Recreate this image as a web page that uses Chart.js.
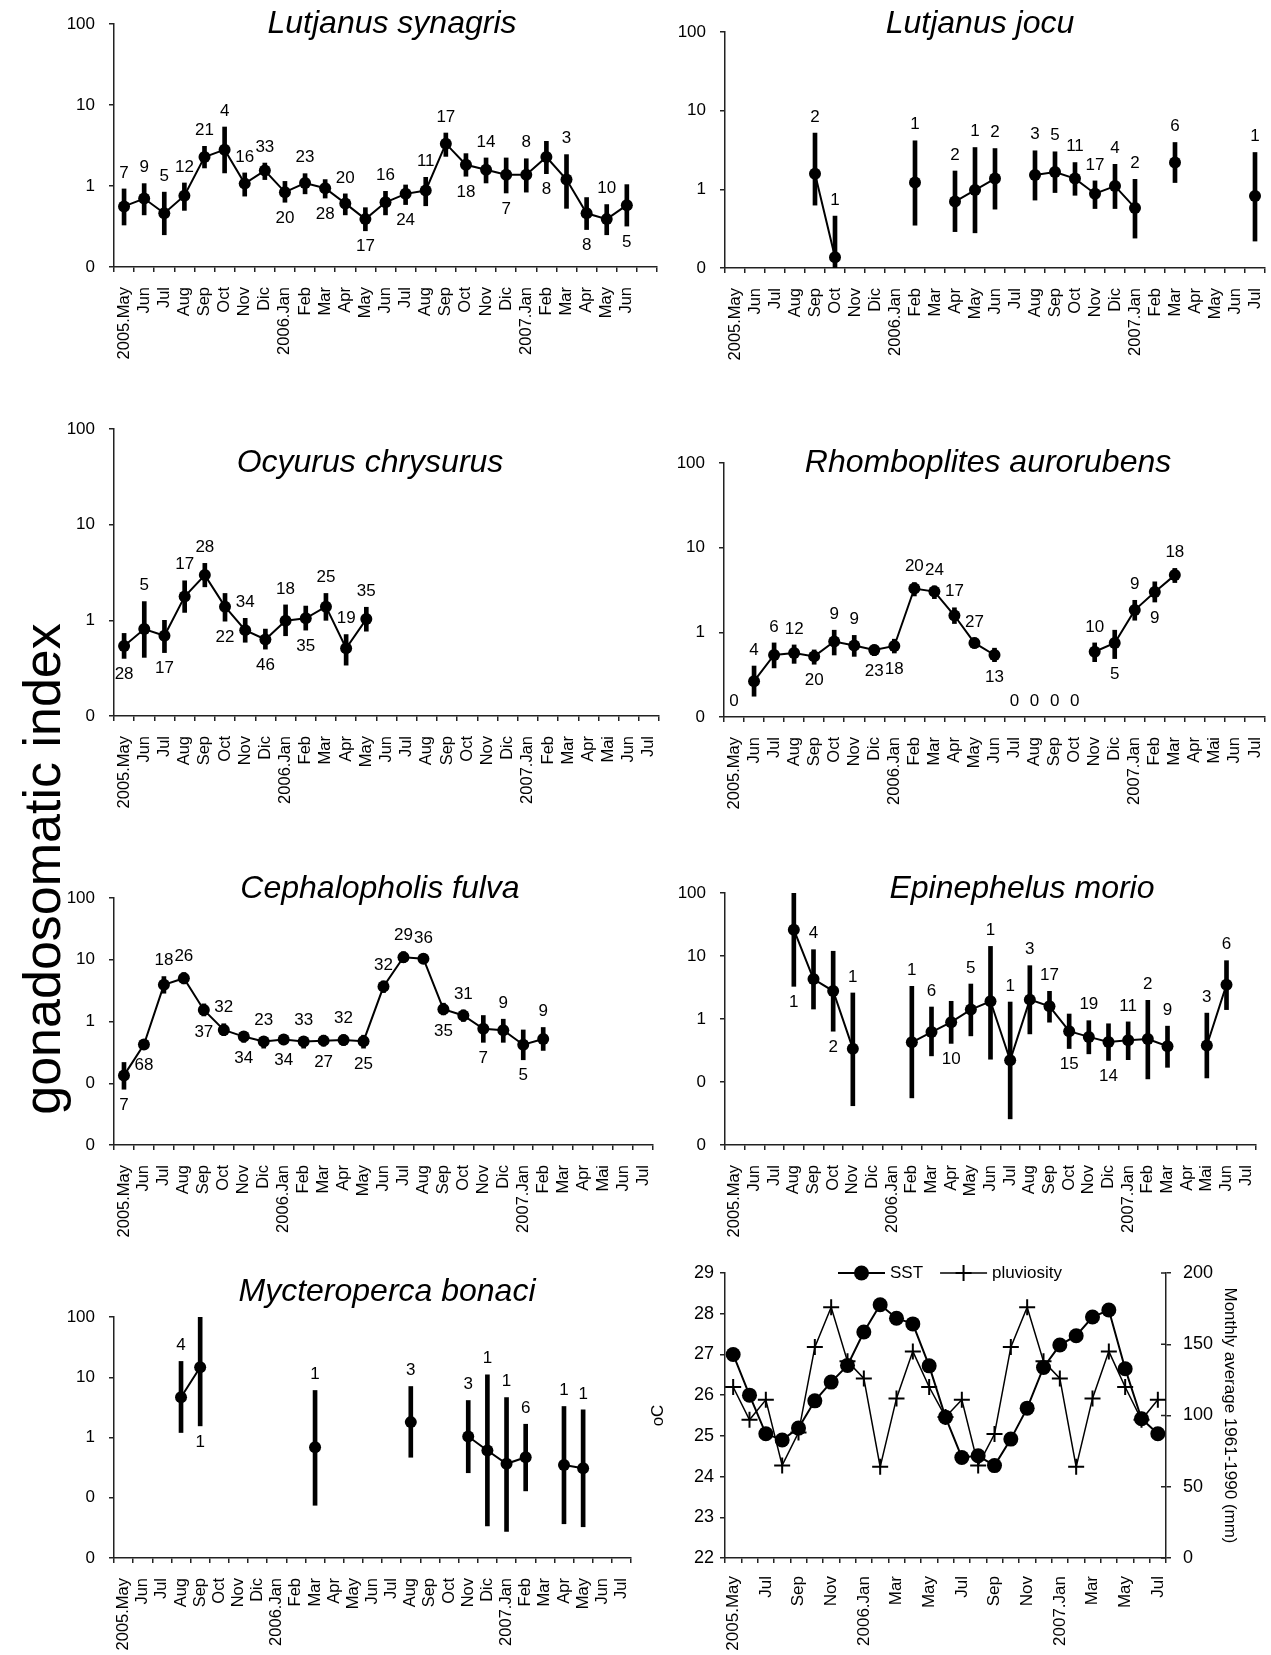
<!DOCTYPE html>
<html>
<head>
<meta charset="utf-8">
<title>Gonadosomatic index</title>
<script src="https://cdn.jsdelivr.net/npm/chart.js@4.4.1/dist/chart.umd.min.js"></script>
<style>
  html, body { margin:0; padding:0; background:#fff; }
  body { width:1271px; height:1655px; position:relative; overflow:hidden; }
  canvas { position:absolute; }
  #ytitle { position:absolute; left:42px; top:869px; transform:translate(-50%,-50%) rotate(-90deg);
            font-family:"Liberation Sans", Arial, sans-serif; font-size:52px; line-height:1; white-space:nowrap; color:#000; }
</style>
</head>
<body>
<div id="ytitle">gonadosomatic index</div>
<canvas id="c1"></canvas>
<canvas id="c2"></canvas>
<canvas id="c3"></canvas>
<canvas id="c4"></canvas>
<canvas id="c5"></canvas>
<canvas id="c6"></canvas>
<canvas id="c7"></canvas>
<canvas id="c8"></canvas>
<script>
// ================= DATA =================
const monthsSynagris = ['2005.May','Jun','Jul','Aug','Sep','Oct','Nov','Dic','2006.Jan','Feb','Mar','Apr','May','Jun','Jul','Aug','Sep','Oct','Nov','Dic','2007.Jan','Feb','Mar','Apr','May','Jun',''];
const monthsMay = ['2005.May','Jun','Jul','Aug','Sep','Oct','Nov','Dic','2006.Jan','Feb','Mar','Apr','May','Jun','Jul','Aug','Sep','Oct','Nov','Dic','2007.Jan','Feb','Mar','Apr','May','Jun','Jul'];
const monthsMai = ['2005.May','Jun','Jul','Aug','Sep','Oct','Nov','Dic','2006.Jan','Feb','Mar','Apr','May','Jun','Jul','Aug','Sep','Oct','Nov','Dic','2007.Jan','Feb','Mar','Apr','Mai','Jun','Jul'];
const monthsEnv = ['2005.May','','Jul','','Sep','','Nov','','2006.Jan','','Mar','','May','','Jul','','Sep','','Nov','','2007.Jan','','Mar','','May','','Jul'];

const yTicks3 = [0.1, 1, 10, 100];
const yTickLabels3 = ['0','1','10','100'];
const yTicks4 = [0.01, 0.1, 1, 10, 100];
const yTickLabels4 = ['0','0','1','10','100'];
const sstTicks = [22, 23, 24, 25, 26, 27, 28, 29];
const rainTicks = [0, 50, 100, 150, 200];

// Lutjanus synagris
const gsiSynagris = [0.56,0.70,0.46,0.76,2.28,2.81,1.07,1.55,0.84,1.09,0.94,0.61,0.39,0.63,0.80,0.88,3.33,1.83,1.59,1.38,1.38,2.28,1.20,0.46,0.39,0.58,null];
const hiSynagris  = [0.92,1.07,0.84,1.09,3.09,5.35,1.45,1.92,1.14,1.42,1.20,0.80,0.54,0.86,1.03,1.28,4.51,2.51,2.22,2.22,2.17,3.56,2.44,0.72,0.59,1.04,null];
const loSynagris  = [0.33,0.44,0.25,0.50,1.67,1.45,0.75,1.20,0.63,0.80,0.71,0.44,0.28,0.44,0.59,0.57,2.32,1.32,1.09,0.82,0.84,1.42,0.53,0.29,0.25,0.32,null];
const nSynagris   = [7,9,5,12,21,4,16,33,20,23,28,20,17,16,24,11,17,18,14,7,8,8,3,8,10,5,null];
const sideSynagris = [1,1,1,1,1,1,1,1,-1,1,-1,1,-1,1,-1,1,1,-1,1,-1,1,-1,1,-1,1,-1,1];

// Lutjanus jocu
const gsiJocu = [null,null,null,null,1.58,0.137,null,null,null,1.22,null,0.70,0.98,1.37,null,1.52,1.66,1.37,0.88,1.10,0.58,null,2.19,null,null,null,0.82];
const hiJocu  = [null,null,null,null,5.19,0.457,null,null,null,4.14,null,1.71,3.40,3.30,null,3.09,3.00,2.19,1.28,2.08,1.34,null,3.94,null,null,null,2.94];
const loJocu  = [null,null,null,null,0.63,0.10,null,null,null,0.35,null,0.29,0.28,0.56,null,0.73,0.91,0.84,0.57,0.57,0.24,null,1.22,null,null,null,0.22];
const nJocu   = [null,null,null,null,2,1,null,null,null,1,null,2,1,2,null,3,5,11,17,4,2,null,6,null,null,null,1];
const sideJocu = [1,1,1,1,1,1,1,1,1,1,1,1,1,1,1,1,1,1,1,1,1,1,1,1,1,1,1];

// Ocyurus chrysurus
const gsiOcyurus = [0.54,0.81,0.69,1.77,2.97,1.39,0.79,0.63,0.99,1.05,1.39,0.51,1.03,null,null,null,null,null,null,null,null,null,null,null,null,null,null];
const hiOcyurus  = [0.73,1.57,1.00,2.59,3.94,1.91,1.05,0.81,1.45,1.41,1.91,0.71,1.37,null,null,null,null,null,null,null,null,null,null,null,null,null,null];
const loOcyurus  = [0.40,0.41,0.46,1.21,2.24,0.98,0.59,0.50,0.69,0.79,1.00,0.34,0.77,null,null,null,null,null,null,null,null,null,null,null,null,null,null];
const nOcyurus   = [28,5,17,17,28,22,34,46,18,35,25,19,35,null,null,null,null,null,null,null,null,null,null,null,null,null,null];
const sideOcyurus = [-1,1,-1,1,1,-1,1,-1,1,-1,1,1,1,1,1,1,1,1,1,1,1,1,1,1,1,1,1];

// Rhomboplites aurorubens
const gsiRhombo = [null,0.265,0.54,0.57,0.52,0.78,0.70,0.62,0.69,3.29,3.03,1.58,0.75,0.54,null,null,null,null,0.59,0.75,1.83,3.00,4.74,null,null,null,null];
const hiRhombo  = [null,0.40,0.75,0.71,0.62,1.06,0.92,0.71,0.83,3.87,3.54,1.95,0.86,0.65,null,null,null,null,0.75,1.06,2.39,3.95,5.69,null,null,null,null];
const loRhombo  = [null,0.176,0.38,0.43,0.42,0.54,0.52,0.53,0.57,2.69,2.50,1.27,0.65,0.45,null,null,null,null,0.45,0.49,1.39,2.28,3.87,null,null,null,null];
const nRhombo   = [0,4,6,12,20,9,9,23,18,20,24,17,27,13,0,0,0,0,10,5,9,9,18,null,null,null,null];
const sideRhombo = [1,1,1,1,-1,1,1,-1,-1,1,1,1,1,-1,1,1,1,1,1,-1,1,-1,1,1,1,1,1];

// Cephalopholis fulva
const gsiCephalo = [0.134,0.425,3.92,5.02,1.54,0.73,0.57,0.475,0.51,0.475,0.49,0.50,0.48,3.68,10.97,10.4,1.58,1.25,0.76,0.72,0.42,0.52,null,null,null,null,null];
const hiCephalo  = [0.217,0.49,5.34,6.20,1.93,0.92,0.69,0.57,0.61,0.57,0.60,0.61,0.60,4.54,13.5,12.4,1.98,1.54,1.25,1.09,0.73,0.80,null,null,null,null,null];
const loCephalo  = [0.080,0.36,2.87,4.07,1.23,0.59,0.46,0.37,0.42,0.37,0.40,0.41,0.37,2.94,9.0,8.8,1.28,1.00,0.46,0.46,0.24,0.34,null,null,null,null,null];
const nCephalo   = [7,68,18,26,37,32,34,23,34,33,27,32,25,32,29,36,35,31,7,9,5,9,null,null,null,null,null];
const sideCephalo = [-1,-1,1,1,-1,1,-1,1,-1,1,-1,1,-1,1,1,1,-1,1,-1,1,-1,1,1,1,1,1,1];

// Epinephelus morio
const gsiMorio = [null,null,null,26.2,4.31,2.78,0.338,null,null,0.426,0.62,0.89,1.41,1.91,0.221,2.03,1.59,0.64,0.52,0.43,0.46,0.48,0.37,null,0.38,3.51,null];
const hiMorio  = [null,null,null,100,12.6,11.9,2.59,null,null,3.30,1.55,1.91,3.59,14.2,1.86,7.02,2.75,1.20,0.94,0.84,0.90,1.98,0.77,null,1.24,8.43,null];
const loMorio  = [null,null,null,3.30,1.44,0.64,0.042,null,null,0.056,0.26,0.41,0.54,0.23,0.026,0.58,0.89,0.34,0.28,0.22,0.226,0.112,0.171,null,0.116,1.41,null];
const nMorio   = [null,null,null,1,4,2,1,null,null,1,6,10,5,1,1,3,17,15,19,14,11,2,9,null,3,6,null];
const sideMorio = [1,1,1,-1,1,-1,1,1,1,1,1,-1,1,1,1,1,1,-1,1,-1,1,1,1,1,1,1,1];

// Mycteroperca bonaci
const gsiBonaci = [null,null,null,4.67,14.7,null,null,null,null,null,0.69,null,null,null,null,1.80,null,null,1.04,0.61,0.366,0.47,null,0.35,0.31,null,null];
const hiBonaci  = [null,null,null,18.3,100,null,null,null,null,null,6.03,null,null,null,null,7.02,null,null,4.11,11.0,4.61,1.66,null,3.27,2.88,null,null];
const loBonaci  = [null,null,null,1.21,1.56,null,null,null,null,null,0.075,null,null,null,null,0.47,null,null,0.26,0.034,0.0275,0.13,null,0.037,0.033,null,null];
const nBonaci   = [null,null,null,4,1,null,null,null,null,null,1,null,null,null,null,3,null,null,3,1,1,6,null,1,1,null,null];
const sideBonaci = [1,1,1,1,-1,1,1,1,1,1,1,1,1,1,1,1,1,1,1,1,1,1,1,1,1,1,1];

// Environment
const sst = [27.0,26.0,25.05,24.9,25.19,25.86,26.32,26.73,27.55,28.22,27.89,27.75,26.72,25.46,24.47,24.51,24.27,24.92,25.68,26.68,27.23,27.46,27.92,28.09,26.65,25.42,25.05];
const pluviosity = [120,97,111,65,88,148,176,138,126,64,112,145,120,99,111,65,87,148,176,138,126,64,112,145,120,97,111];

// ================= LAYOUT (page px) =================
const FONT = '"Liberation Sans", Arial, Helvetica, sans-serif';
const AXIS = '#222';
const LAYOUT = {
  synagris: {l:114, r:657,  t:24,   b:267,  tx:392,  ty:33},
  jocu:     {l:725, r:1271, t:32,   b:268,  tx:980,  ty:33, pr:0},
  ocyurus:  {l:114, r:659,  t:429,  b:716,  tx:370,  ty:472},
  rhombo:   {l:724, r:1267, t:463,  b:717,  tx:988,  ty:472, pr:4},
  cephalo:  {l:114, r:653,  t:898,  b:1145, tx:380,  ty:898},
  morio:    {l:725, r:1256, t:893,  b:1145, tx:1022, ty:898},
  bonaci:   {l:114, r:631,  t:1317, b:1558, tx:387,  ty:1301},
  env:      {l:725, r:1166, t:1273, b:1558}
};

// ================= PLUGINS =================
const titlePlugin = {
  id: 'panelTitle',
  afterDraw(chart, args, opts) {
    if (!opts || !opts.text) return;
    const ctx = chart.ctx, a = chart.chartArea;
    ctx.save();
    ctx.font = 'italic 32px ' + FONT;
    ctx.fillStyle = '#000';
    ctx.textAlign = 'center';
    ctx.textBaseline = 'alphabetic';
    ctx.fillText(opts.text, a.left + opts.dx, a.top + opts.dy);
    ctx.restore();
  }
};

const nPlugin = {
  id: 'nLabels',
  afterDatasetsDraw(chart, args, opts) {
    if (!opts || !opts.n) return;
    const ctx = chart.ctx, xs = chart.scales.x, ys = chart.scales.y;
    ctx.save();
    ctx.font = '17px ' + FONT;
    ctx.fillStyle = '#000';
    ctx.textAlign = 'center';
    ctx.textBaseline = 'middle';
    opts.n.forEach((v, i) => {
      if (v === null) return;
      const x = xs.getPixelForValue(i);
      let y;
      if (opts.gsi[i] === null) y = ys.getPixelForValue(ys.min) - opts.offset;
      else if (opts.side[i] < 0) y = ys.getPixelForValue(opts.lo[i]) + opts.offset;
      else y = ys.getPixelForValue(opts.hi[i]) - opts.offset;
      ctx.fillText(String(v), x, y);
    });
    ctx.restore();
  }
};

const envLegend = {
  id: 'envLegend',
  afterDraw(chart, args, opts) {
    const ctx = chart.ctx, a = chart.chartArea;
    let x = a.left + opts.dx;
    const y = a.top + opts.dy;
    ctx.save();
    ctx.font = '17px ' + FONT;
    ctx.textBaseline = 'middle';
    ctx.textAlign = 'left';
    ctx.fillStyle = '#000';
    ctx.strokeStyle = '#000';
    chart.data.datasets.forEach(ds => {
      ctx.lineWidth = ds.borderWidth;
      ctx.beginPath(); ctx.moveTo(x, y); ctx.lineTo(x + 47, y); ctx.stroke();
      const cx = x + 23.5, r = ds.pointRadius;
      if (ds.pointStyle === 'cross') {
        ctx.lineWidth = ds.pointBorderWidth;
        ctx.beginPath();
        ctx.moveTo(cx - r, y); ctx.lineTo(cx + r, y);
        ctx.moveTo(cx, y - r); ctx.lineTo(cx, y + r);
        ctx.stroke();
      } else {
        ctx.beginPath(); ctx.arc(cx, y, r, 0, Math.PI * 2); ctx.fill();
      }
      ctx.fillText(ds.label, x + 52, y);
      x += 52 + ctx.measureText(ds.label).width + 17;
    });
    ctx.restore();
  }
};

// inner half of the crossing tick marks on the right (rain) axis
const crossTicks = {
  id: 'crossTicks',
  afterDraw(chart) {
    const s = chart.scales.y2;
    if (!s) return;
    const ctx = chart.ctx, x = chart.chartArea.right;
    ctx.save();
    ctx.strokeStyle = AXIS;
    ctx.lineWidth = 1.5;
    ctx.beginPath();
    s.ticks.forEach(t => {
      const y = s.getPixelForValue(t.value);
      ctx.moveTo(x - 5, y); ctx.lineTo(x, y);
    });
    ctx.stroke();
    ctx.restore();
  }
};

// ================= BUILDERS =================
function placeCanvas(cv, left, top, W, H) {
  cv.width = W; cv.height = H;
  cv.style.left = left + 'px'; cv.style.top = top + 'px';
  cv.style.width = W + 'px'; cv.style.height = H + 'px';
}

function fixX(h) {
  return function (s) { s.height = h; s.paddingLeft = 0; s.paddingRight = 0; };
}
function fixY(w) {
  return function (s) { s.width = w; s.paddingTop = 0; s.paddingBottom = 0; };
}

function gsiPanel(id, pos, title, labels, gsi, lo, hi, n, side, yVals, yLabels) {
  const YW = 60, XH = 100, PT = 45;
  const PR = pos.pr !== undefined ? pos.pr : 12;
  const cv = document.getElementById(id);
  const W = pos.r - pos.l + YW + PR;
  const H = pos.b - pos.t + PT + XH;
  placeCanvas(cv, pos.l - YW, pos.t - PT, W, H);
  const errBars = lo.map((v, i) => (v === null ? null : [v, hi[i]]));
  return new Chart(cv, {
    type: 'bar',
    data: {
      labels: labels,
      datasets: [
        { type: 'line', data: gsi, borderColor: '#000', backgroundColor: '#000', borderWidth: 2,
          pointRadius: 6, pointBackgroundColor: '#000', pointBorderWidth: 0, spanGaps: false, order: 0 },
        { type: 'bar', data: errBars, backgroundColor: '#000', barThickness: 4, borderWidth: 0, order: 1 }
      ]
    },
    options: {
      responsive: false, animation: false, events: [],
      layout: { padding: { top: PT, right: PR, left: 0, bottom: 0 } },
      plugins: {
        legend: { display: false }, tooltip: { enabled: false },
        panelTitle: { text: title, dx: pos.tx - pos.l, dy: pos.ty - pos.t },
        nLabels: { n: n, side: side, gsi: gsi, lo: lo, hi: hi, offset: 16 }
      },
      scales: {
        x: {
          type: 'category', offset: true,
          grid: { offset: true, drawOnChartArea: false, drawTicks: true, tickLength: 5, color: AXIS, lineWidth: 1.5 },
          border: { display: true, color: AXIS, width: 1.5 },
          ticks: { autoSkip: false, maxRotation: 90, minRotation: 90, padding: 15, color: '#000', font: { family: FONT, size: 16.5 } },
          afterFit: fixX(XH)
        },
        y: {
          type: 'logarithmic', min: yVals[0], max: yVals[yVals.length - 1],
          afterBuildTicks(s) { s.ticks = yVals.map(v => ({ value: v })); },
          ticks: { callback: (v, i) => yLabels[i], padding: 14, color: '#000', font: { family: FONT, size: 17 } },
          grid: { drawOnChartArea: false, tickLength: 5, color: AXIS, lineWidth: 1.5 },
          border: { display: true, color: AXIS, width: 1.5 },
          afterFit: fixY(YW)
        }
      }
    },
    plugins: [titlePlugin, nPlugin]
  });
}

function envPanel(id, pos) {
  const YL = 85, YR = 85, XH = 100, PT = 20;
  const cv = document.getElementById(id);
  const W = pos.r - pos.l + YL + YR;
  const H = pos.b - pos.t + PT + XH;
  placeCanvas(cv, pos.l - YL, pos.t - PT, W, H);
  return new Chart(cv, {
    type: 'line',
    data: {
      labels: monthsEnv,
      datasets: [
        { label: 'SST', data: sst, yAxisID: 'y', borderColor: '#000', backgroundColor: '#000', borderWidth: 2,
          pointStyle: 'circle', pointRadius: 7.5, pointBackgroundColor: '#000', pointBorderWidth: 0 },
        { label: 'pluviosity', data: pluviosity, yAxisID: 'y2', borderColor: '#000', backgroundColor: '#000', borderWidth: 1.5,
          pointStyle: 'cross', pointRadius: 8, pointBorderColor: '#000', pointBorderWidth: 2 }
      ]
    },
    options: {
      responsive: false, animation: false, events: [],
      layout: { padding: { top: PT, right: 0, left: 0, bottom: 0 } },
      plugins: { legend: { display: false }, tooltip: { enabled: false }, envLegend: { dx: 113, dy: 0 } },
      scales: {
        x: {
          type: 'category', offset: true,
          grid: { offset: true, drawOnChartArea: false, drawTicks: true, tickLength: 5, color: AXIS, lineWidth: 1.5 },
          border: { display: true, color: AXIS, width: 1.5 },
          ticks: { autoSkip: false, maxRotation: 90, minRotation: 90, padding: 13, color: '#000', font: { family: FONT, size: 17 } },
          afterFit: fixX(XH)
        },
        y: {
          position: 'left', min: sstTicks[0], max: sstTicks[sstTicks.length - 1],
          afterBuildTicks(s) { s.ticks = sstTicks.map(v => ({ value: v })); },
          ticks: { padding: 6, color: '#000', font: { family: FONT, size: 18 } },
          grid: { drawOnChartArea: false, tickLength: 5, color: AXIS, lineWidth: 1.5 },
          border: { display: true, color: AXIS, width: 1.5 },
          title: { display: true, text: 'oC', color: '#000', font: { family: FONT, size: 17 }, padding: { top: 8, bottom: 0 } },
          afterFit: fixY(YL)
        },
        y2: {
          position: 'right', min: rainTicks[0], max: rainTicks[rainTicks.length - 1],
          afterBuildTicks(s) { s.ticks = rainTicks.map(v => ({ value: v })); },
          ticks: { padding: 12, color: '#000', font: { family: FONT, size: 18 } },
          grid: { drawOnChartArea: false, tickLength: 5, color: AXIS, lineWidth: 1.5 },
          border: { display: true, color: AXIS, width: 1.5 },
          title: { display: true, text: 'Monthly average 1961-1990 (mm)', color: '#000', font: { family: FONT, size: 17 }, padding: { top: 11, bottom: 0 } },
          afterFit: fixY(YR)
        }
      }
    },
    plugins: [envLegend, crossTicks]
  });
}

gsiPanel('c1', LAYOUT.synagris, 'Lutjanus synagris', monthsSynagris, gsiSynagris, loSynagris, hiSynagris, nSynagris, sideSynagris, yTicks3, yTickLabels3);
gsiPanel('c2', LAYOUT.jocu, 'Lutjanus jocu', monthsMay, gsiJocu, loJocu, hiJocu, nJocu, sideJocu, yTicks3, yTickLabels3);
gsiPanel('c3', LAYOUT.ocyurus, 'Ocyurus chrysurus', monthsMai, gsiOcyurus, loOcyurus, hiOcyurus, nOcyurus, sideOcyurus, yTicks3, yTickLabels3);
gsiPanel('c4', LAYOUT.rhombo, 'Rhomboplites aurorubens', monthsMai, gsiRhombo, loRhombo, hiRhombo, nRhombo, sideRhombo, yTicks3, yTickLabels3);
gsiPanel('c5', LAYOUT.cephalo, 'Cephalopholis fulva', monthsMai, gsiCephalo, loCephalo, hiCephalo, nCephalo, sideCephalo, yTicks4, yTickLabels4);
gsiPanel('c6', LAYOUT.morio, 'Epinephelus morio', monthsMai, gsiMorio, loMorio, hiMorio, nMorio, sideMorio, yTicks4, yTickLabels4);
gsiPanel('c7', LAYOUT.bonaci, 'Mycteroperca bonaci', monthsMay, gsiBonaci, loBonaci, hiBonaci, nBonaci, sideBonaci, yTicks4, yTickLabels4);
envPanel('c8', LAYOUT.env);
</script>
</body>
</html>
